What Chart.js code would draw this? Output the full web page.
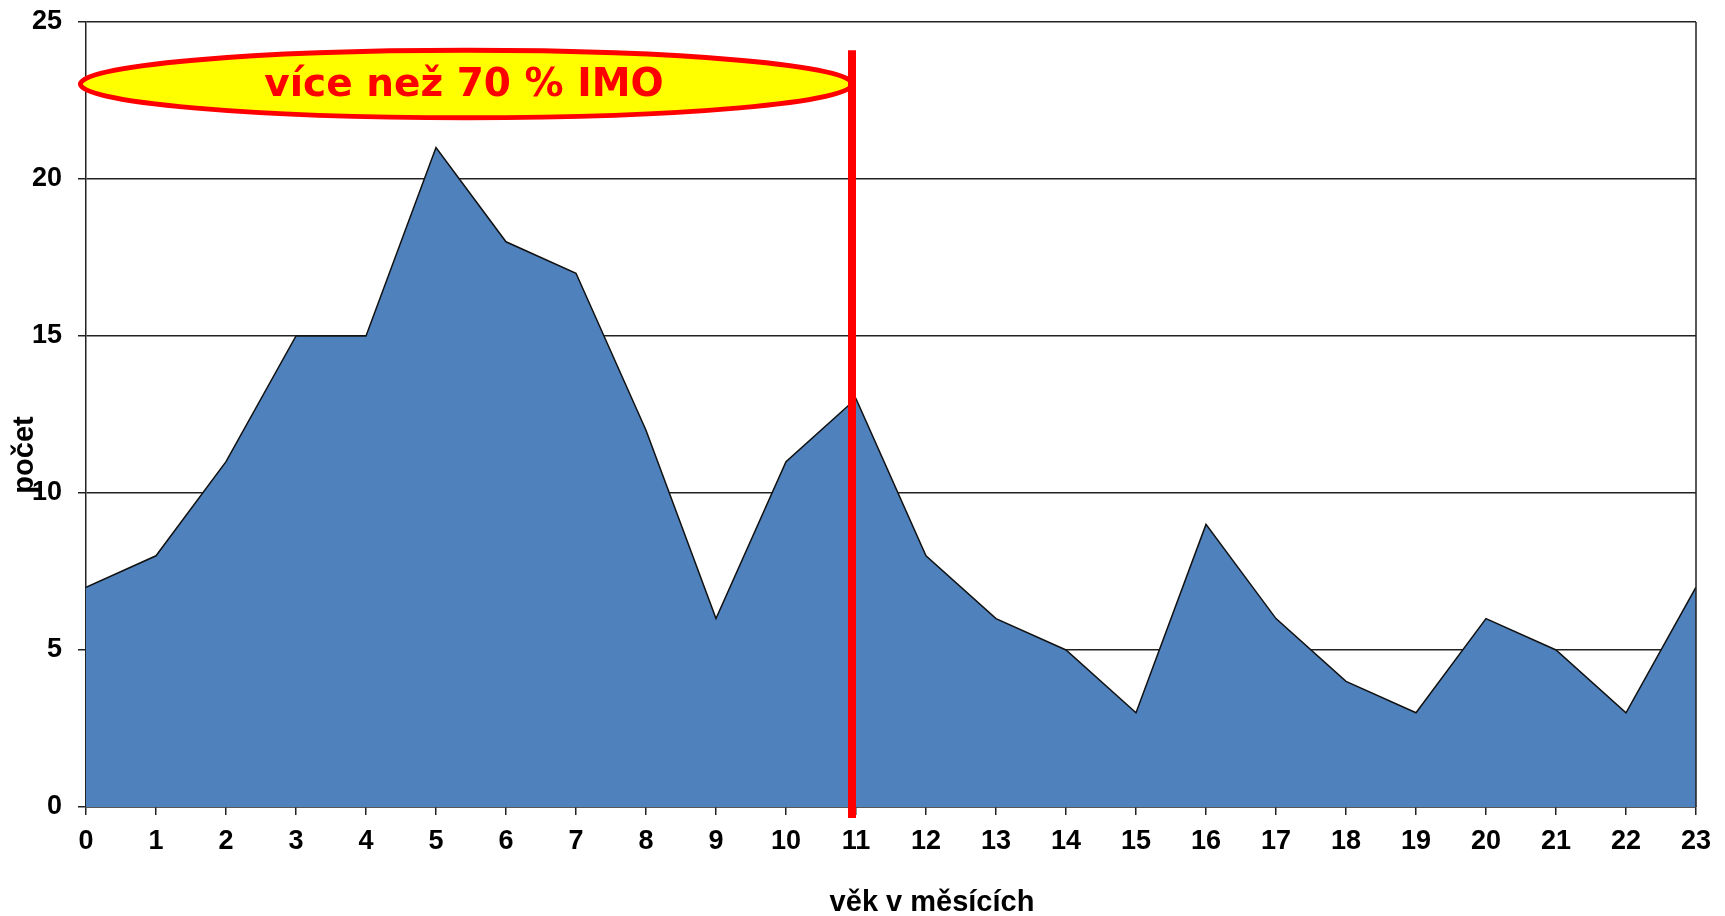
<!DOCTYPE html>
<html>
<head>
<meta charset="utf-8">
<script src="https://cdn.jsdelivr.net/npm/chart.js@4"></script>
<style>
  html, body { margin: 0; padding: 0; background: #fff; }
  #wrap { width: 1725px; height: 916px; }
</style>
</head>
<body>
<div id="wrap"><canvas id="myChart"></canvas></div>
<script>
const months = [0, 1, 2, 3, 4, 5, 6, 7, 8, 9, 10, 11, 12, 13, 14, 15, 16, 17, 18, 19, 20, 21, 22, 23];
const counts = [7, 8, 11, 15, 15, 21, 18, 17, 12, 6, 11, 13, 8, 6, 5, 3, 9, 6, 4, 3, 6, 5, 3, 7];
const markerMonth = 11;
const noteText = 'více než 70 % IMO';

const tickFont = { family: 'Liberation Sans', size: 27, weight: 'bold' };

// titles, right border, red marker and the ellipse note
const extras = {
  id: 'extras',
  afterDatasetsDraw(chart) {
    const ctx = chart.ctx;
    const x = chart.scales.x, y = chart.scales.y;
    const area = chart.chartArea;
    ctx.save();

    // right border of plot
    ctx.strokeStyle = '#222';
    ctx.lineWidth = 1.5;
    ctx.beginPath();
    ctx.moveTo(area.right, area.top);
    ctx.lineTo(area.right, area.bottom);
    ctx.stroke();

    // ellipse note
    const ex1 = x.getPixelForValue(-0.08), ex2 = x.getPixelForValue(10.95);
    const ey1 = y.getPixelForValue(24.1), ey2 = y.getPixelForValue(21.95);
    ctx.beginPath();
    ctx.ellipse((ex1 + ex2) / 2, (ey1 + ey2) / 2, (ex2 - ex1) / 2, (ey2 - ey1) / 2, 0, 0, Math.PI * 2);
    ctx.fillStyle = '#ffff00';
    ctx.fill();
    ctx.lineWidth = 5;
    ctx.strokeStyle = '#ff0000';
    ctx.stroke();

    ctx.fillStyle = '#ff0000';
    ctx.font = 'bold 39px "DejaVu Sans"';
    ctx.textAlign = 'center';
    ctx.textBaseline = 'middle';
    ctx.fillText(noteText, x.getPixelForValue(5.4), y.getPixelForValue(22.95));

    // red vertical marker
    const mx = x.getPixelForValue(markerMonth) - 4;
    ctx.strokeStyle = '#ff0000';
    ctx.lineWidth = 8;
    ctx.beginPath();
    ctx.moveTo(mx, y.getPixelForValue(24.1));
    ctx.lineTo(mx, area.bottom + 11);
    ctx.stroke();

    // axis titles
    ctx.fillStyle = '#000';
    ctx.font = 'bold 29px "Liberation Sans"';
    ctx.textAlign = 'center';
    ctx.textBaseline = 'middle';
    ctx.fillText('věk v měsících', 932, 903);

    ctx.translate(25, 455);
    ctx.rotate(-Math.PI / 2);
    ctx.fillText('počet', 0, 0);
    ctx.restore();
  }
};

const data = {
  datasets: [{
    label: 'počet',
    data: months.map((m, i) => ({ x: m, y: counts[i] })),
    backgroundColor: '#4F81BD',
    borderColor: '#111',
    borderWidth: 1.5,
    fill: 'origin',
    pointRadius: 0,
    tension: 0
  }]
};

const config = {
  type: 'line',
  data,
  options: {
    responsive: true,
    maintainAspectRatio: false,
    animation: false,
    layout: { padding: { top: 22, right: 29, left: 0, bottom: 0 } },
    plugins: {
      legend: { display: false },
      tooltip: { enabled: false }
    },
    scales: {
      x: {
        type: 'linear',
        min: 0,
        max: 23,
        afterFit(scale) { scale.height = 109; },
        ticks: { stepSize: 1, color: '#000', font: tickFont, padding: 10, maxRotation: 0, autoSkip: false },
        grid: { drawOnChartArea: false, color: '#222', lineWidth: 1.5, tickLength: 8 },
        border: { display: true, color: '#222', width: 1.5 }
      },
      y: {
        min: 0,
        max: 25,
        afterFit(scale) {
          scale.width = 86;
          scale.paddingTop = 0;
          scale.paddingBottom = 0;
        },
        ticks: { stepSize: 5, color: '#000', font: tickFont, padding: 16 },
        grid: { color: '#222', lineWidth: 1.5, tickLength: 8 },
        border: { display: true, color: '#222', width: 1.5 }
      }
    }
  },
  plugins: [extras]
};

var myChart = new Chart(document.getElementById('myChart'), config);
</script>
</body>
</html>
